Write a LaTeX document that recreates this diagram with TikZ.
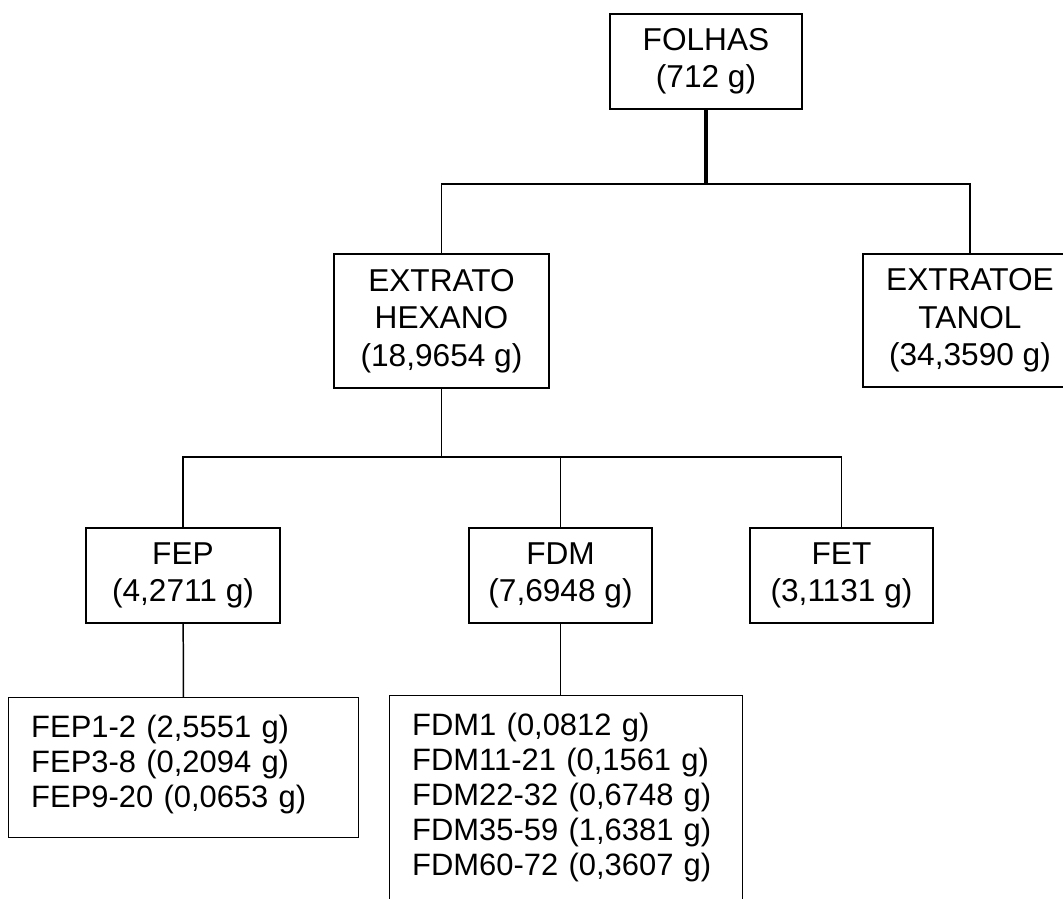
\documentclass[tikz,border=0pt]{standalone}
\usepackage{fontspec}
\setmainfont{Liberation Sans}
\usetikzlibrary{positioning}
\tikzset{
  box-c/.style={draw,rectangle,line width=0.85pt,align=center,inner sep=0pt,font=\fontsize{18}{21.3}\selectfont},
  box-l/.style={draw,rectangle,line width=0.85pt,align=left,anchor=north west,inner xsep=0.45cm,inner ysep=0.34cm,font=\fontsize{17.6}{20}\selectfont},
  link/.style={line width=0.85pt},
  stem/.style={line width=2pt},
}

\begin{document}
\begin{tikzpicture}[x=0.02cm,y=-0.02cm]
  \useasboundingbox (0,0) rectangle (1063,899);

  % TOP
  \node[box-c,minimum width=3.84cm,minimum height=1.9cm] (folhas) at (706,61.5) {FOLHAS\\(712 g)};
  \coordinate (j1) at (706,184);

  % EXTRATOS
  \node[box-c,minimum width=4.3cm,minimum height=2.68cm]  (hexano) at (441.5,321) {EXTRATO\\HEXANO\\(18,9654 g)};
  \node[box-c,minimum width=4.28cm,minimum height=2.66cm] (etanol) at (970,320.5) {EXTRATOE\\TANOL\\(34,3590 g)};
  \draw[stem] (folhas) -- (j1);
  \draw[link] (hexano.north) |- (j1) -| (etanol.north);

  % FRACOES
  \coordinate (j2) at (441.5,457);
  \node[box-c,minimum width=3.88cm,minimum height=1.9cm] (fep) at (183,575.5)   {FEP\\(4,2711 g)};
  \node[box-c,minimum width=3.66cm,minimum height=1.9cm] (fdm) at (560.5,575.5) {FDM\\(7,6948 g)};
  \node[box-c,minimum width=3.66cm,minimum height=1.9cm] (fet) at (841.5,575.5) {FET\\(3,1131 g)};
  \draw[link] (hexano) -- (j2);
  \draw[link] (fep.north) |- (j2) -| (fet.north);
  \draw[link] (fdm.north) -- (fdm.north |- j2);

  % SUBFRACOES
  \node[box-l,text width=6.1cm] (feplist) at (8,697)
    {FEP1-2 (2,5551 g)\\FEP3-8 (0,2094 g)\\FEP9-20 (0,0653 g)\rule[-0.26cm]{0pt}{0pt}};
  \node[box-l,text width=6.16cm] (fdmlist) at (389,695)
    {FDM1 (0,0812 g)\\FDM11-21 (0,1561 g)\\FDM22-32 (0,6748 g)\\FDM35-59 (1,6381 g)\\FDM60-72 (0,3607 g)\rule[-0.6cm]{0pt}{0pt}};
  \draw[link] (fep) -- (feplist);
  \draw[link] (fdm.south) -- (fdm.south |- fdmlist.north);

\end{tikzpicture}
\end{document}
